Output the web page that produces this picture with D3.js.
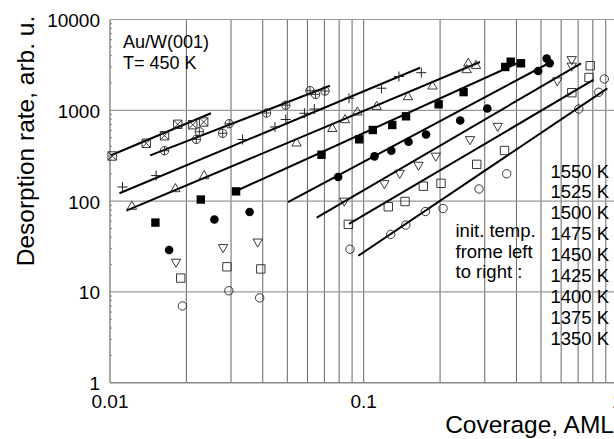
<!DOCTYPE html>
<html>
<head>
<meta charset="utf-8">
<script src="https://cdn.jsdelivr.net/npm/d3@7"></script>
<style>
  body { margin: 0; background: #fff; }
  text { font-family: "Liberation Sans", Arial, sans-serif; fill: #000; }
</style>
</head>
<body>
<svg></svg>
<script>
// initial temperatures, left to right
var temps = ["1550 K", "1525 K", "1500 K", "1475 K", "1450 K", "1425 K", "1400 K", "1375 K", "1350 K"];

var cov1550 = [0.0102, 0.0139, 0.0164, 0.0185, 0.0212, 0.0234];
var rate1550 = [314, 433, 525, 701, 694, 743];
var cov1525 = [0.0164, 0.0219, 0.0225, 0.0278, 0.0295, 0.0414, 0.0493, 0.0614, 0.0646, 0.0704];
var rate1525 = [359, 479, 581, 558, 712, 934, 1138, 1644, 1500, 1632];
var cov1500 = [0.0112, 0.0152, 0.0333, 0.0447, 0.0493, 0.0584, 0.0639, 0.0875, 0.1175, 0.1377, 0.1687];
var rate1500 = [143, 191, 477, 655, 792, 927, 1033, 1356, 1751, 2356, 2595];
var cov1475 = [0.0122, 0.0181, 0.0235, 0.0544, 0.0752, 0.0844, 0.0944, 0.1125, 0.1495, 0.1867, 0.2584, 0.2547, 0.2771];
var rate1475 = [87, 136, 189, 433, 626, 782, 950, 1096, 1401, 1837, 3275, 2778, 3098];
var cov1450 = [0.0151, 0.0228, 0.0314, 0.0682, 0.0960, 0.1086, 0.1296, 0.1468, 0.1974, 0.2476, 0.3612, 0.3797, 0.4169];
var rate1450 = [58, 104, 128, 324, 479, 607, 689, 859, 1164, 1586, 2999, 3429, 3295];
var cov1425 = [0.0171, 0.0258, 0.0355, 0.0793, 0.1103, 0.1285, 0.1502, 0.1761, 0.2401, 0.3070, 0.4873, 0.5264, 0.5411];
var rate1425 = [28.9, 62.7, 75.9, 184, 311, 359, 451, 541, 772, 1047, 2710, 3719, 3295];
var cov1400 = [0.0182, 0.0279, 0.0382, 0.0839, 0.1206, 0.1387, 0.1644, 0.1924, 0.2624, 0.3375, 0.5797, 0.6606, 0.6606];
var rate1400 = [21.4, 31.0, 35.7, 100.7, 157, 204, 250, 315, 479, 671, 2129, 3645, 3091];
var cov1375 = [0.0190, 0.0289, 0.0393, 0.0870, 0.1250, 0.1455, 0.1718, 0.2017, 0.2789, 0.3589, 0.6612, 0.7727, 0.7813];
var rate1375 = [14.2, 18.9, 17.9, 55.5, 86.7, 99.0, 146, 157, 254, 361, 1563, 2297, 3098];
var cov1350 = [0.0193, 0.0294, 0.0389, 0.0883, 0.1278, 0.1465, 0.1752, 0.2054, 0.2848, 0.3661, 0.7045, 0.8439, 0.8880];
var rate1350 = [7.0, 10.3, 8.6, 29.5, 42.9, 54.5, 76.8, 82.9, 136, 200, 1033, 1578, 2213];

// fitted straight lines (start, end)
var fitCov = [[0.0101, 0.0250], [0.0144, 0.0736], [0.0109, 0.1667], [0.0116, 0.2873], [0.0320, 0.4303],
              [0.0503, 0.5474], [0.0653, 0.7188], [0.0875, 0.8035], [0.0952, 0.9126]];
var fitRate = [[320, 927], [319, 1866], [122, 2945], [78.4, 3404], [132.5, 3581],
               [97.7, 3404], [65.6, 3295], [56, 2157], [25.0, 1747]];

var yTickValues = [1, 10, 100, 1000, 10000];
var yTickLabels = ["1", "10", "100", "1000", "10000"];
var xTickValues = [0.01, 0.1, 1];
var xTickLabels = ["0.01", "0.1", "1"];

var allCov = [cov1550, cov1525, cov1500, cov1475, cov1450, cov1425, cov1400, cov1375, cov1350];
var allRate = [rate1550, rate1525, rate1500, rate1475, rate1450, rate1425, rate1400, rate1375, rate1350];
var markerTypes = ["crossSquare", "circlePlus", "plus", "triUp", "fillSquare", "fillCircle", "triDown", "square", "circle"];

var width = 614;
var height = 439;

var x = d3.scaleLog().domain([0.01, 1]).range([110, 617.4]);
var y = d3.scaleLog().domain([1, 10000]).range([382.7, 19.5]);

var svg = d3.select("svg")
              .attr("width", width)
              .attr("height", height);

// grid
var vLines = x.ticks().filter(d => d > 0.0101 && d < 0.99);
svg.append("g")
  .selectAll("line")
  .data(vLines)
  .enter()
  .append("line")
    .attr("x1", d => x(d)).attr("x2", d => x(d))
    .attr("y1", y(10000)).attr("y2", y(1))
    .attr("stroke", "#666")
    .attr("stroke-width", 1);

svg.append("g")
  .selectAll("line")
  .data([10, 100, 1000, 10000])
  .enter()
  .append("line")
    .attr("x1", x(0.01)).attr("x2", width)
    .attr("y1", d => y(d)).attr("y2", d => y(d))
    .attr("stroke", "#999")
    .attr("stroke-width", 1.2);

// minor ticks on the left axis
svg.append("g")
  .selectAll("line")
  .data(y.ticks().filter(d => yTickValues.indexOf(d) === -1))
  .enter()
  .append("line")
    .attr("x1", x(0.01)).attr("x2", x(0.01) + 2)
    .attr("y1", d => y(d)).attr("y2", d => y(d))
    .attr("stroke", "#888");

// axes lines
svg.append("line")
    .attr("x1", x(0.01)).attr("x2", x(0.01))
    .attr("y1", y(10000)).attr("y2", y(1))
    .attr("stroke", "#888").attr("stroke-width", 1.5);
svg.append("line")
    .attr("x1", x(0.01)).attr("x2", width)
    .attr("y1", y(1)).attr("y2", y(1))
    .attr("stroke", "#888").attr("stroke-width", 1.5);

// tick labels
svg.append("g")
  .selectAll("text")
  .data(yTickValues)
  .enter()
  .append("text")
    .attr("x", 100)
    .attr("y", d => y(d) + 7.5)
    .attr("text-anchor", "end")
    .style("font-size", "19px")
    .text((d, i) => yTickLabels[i]);

svg.append("g")
  .selectAll("text")
  .data(xTickValues)
  .enter()
  .append("text")
    .attr("x", d => x(d))
    .attr("y", 408.3)
    .attr("text-anchor", "middle")
    .style("font-size", "19px")
    .text((d, i) => xTickLabels[i]);

// axis titles
svg.append("text")
    .attr("transform", "translate(33.5,141) rotate(-90)")
    .attr("text-anchor", "middle")
    .style("font-size", "24.5px")
    .text("Desorption rate, arb. u.");

svg.append("text")
    .attr("x", 614)
    .attr("y", 433)
    .attr("text-anchor", "end")
    .style("font-size", "24.5px")
    .text("Coverage, AML");

// fit lines
var line = d3.line().x(d => x(d[0])).y(d => y(d[1]));
svg.append("g")
  .selectAll("path")
  .data(fitCov)
  .enter()
  .append("path")
    .attr("d", (d, i) => line([[d[0], fitRate[i][0]], [d[1], fitRate[i][1]]]))
    .attr("fill", "none")
    .attr("stroke", "#000")
    .attr("stroke-width", 2);

// markers
function drawMarker(g, type){
  var h = 4.2;
  var sq = "M" + (-h) + "," + (-h) + "H" + h + "V" + h + "H" + (-h) + "Z";
  var stroke = "#222";
  if(type === "crossSquare"){
    g.append("path").attr("d", sq + "M" + (-h) + "," + (-h) + "L" + h + "," + h + "M" + (-h) + "," + h + "L" + h + "," + (-h))
      .attr("fill", "none").attr("stroke", stroke).attr("stroke-width", 0.9);
  } else if(type === "circlePlus"){
    g.append("circle").attr("r", 4.2).attr("fill", "none").attr("stroke", stroke).attr("stroke-width", 0.9);
    g.append("path").attr("d", "M-4.2,0H4.2M0,-4.2V4.2").attr("stroke", stroke).attr("stroke-width", 0.9);
  } else if(type === "plus"){
    g.append("path").attr("d", "M-5,0H5M0,-5V5").attr("stroke", stroke).attr("stroke-width", 1);
  } else if(type === "triUp"){
    g.append("path").attr("d", d3.symbol(d3.symbolTriangle, 38)())
      .attr("fill", "none").attr("stroke", stroke).attr("stroke-width", 0.9);
  } else if(type === "triDown"){
    g.append("path").attr("d", d3.symbol(d3.symbolTriangle, 38)())
      .attr("transform", "rotate(180)")
      .attr("fill", "none").attr("stroke", stroke).attr("stroke-width", 0.9);
  } else if(type === "fillSquare"){
    g.append("path").attr("d", sq).attr("fill", "#000");
  } else if(type === "fillCircle"){
    g.append("circle").attr("r", 4.3).attr("fill", "#000");
  } else if(type === "square"){
    g.append("path").attr("d", sq).attr("fill", "none").attr("stroke", stroke).attr("stroke-width", 0.9);
  } else {
    g.append("circle").attr("r", 4.2).attr("fill", "none").attr("stroke", stroke).attr("stroke-width", 0.9);
  }
}

allCov.forEach(function(covs, s){
  var pts = covs.map((c, i) => [c, allRate[s][i]]);
  svg.append("g")
    .selectAll("g")
    .data(pts)
    .enter()
    .append("g")
      .attr("transform", d => "translate(" + x(d[0]) + "," + y(d[1]) + ")")
      .each(function(){ drawMarker(d3.select(this), markerTypes[s]); });
});

// annotations
svg.append("text").attr("x", 123).attr("y", 48).style("font-size", "18px").text("Au/W(001)");
svg.append("text").attr("x", 123).attr("y", 69).style("font-size", "18px").text("T= 450 K");

var note = ["init. temp.", "frome left", "to right :"];
svg.append("g")
  .selectAll("text")
  .data(note)
  .enter()
  .append("text")
    .attr("x", 455.5)
    .attr("y", (d, i) => 237.3 + i * 20.5)
    .style("font-size", "18.5px")
    .text(d => d);

svg.append("g")
  .selectAll("text")
  .data(temps)
  .enter()
  .append("text")
    .attr("x", 550.5)
    .attr("y", (d, i) => 177.5 + i * 20.9)
    .style("font-size", "18.5px")
    .text(d => d);
</script>
</body>
</html>
